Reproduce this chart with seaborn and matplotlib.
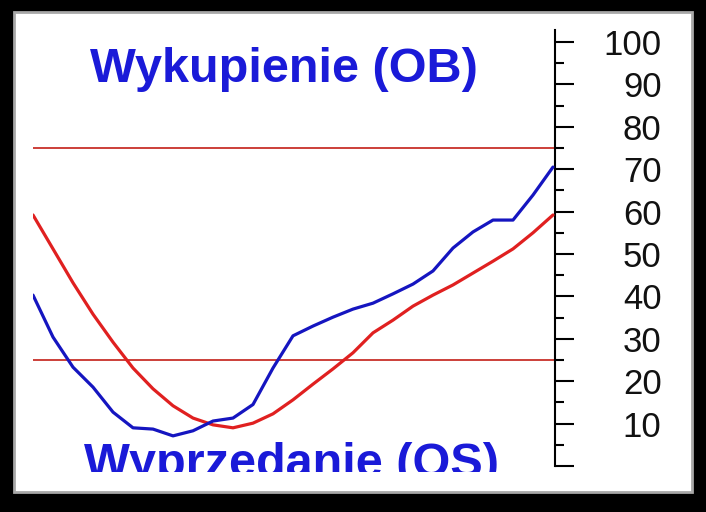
import matplotlib
matplotlib.use("Agg")
import matplotlib.pyplot as plt
import matplotlib.patches as mpatches
import numpy as np
import seaborn as sns

# Wartosci (oscylator, 27 kolejnych sesji)
sesje = list(range(27))
linia_niebieska = [40.3, 30.4, 23.3, 18.6, 12.7, 9.0, 8.7, 7.1, 8.3, 10.6, 11.3, 14.5, 23.1, 30.7,
                   33.0, 35.1, 37.0, 38.4, 40.6, 42.9, 46.0, 51.4, 55.2, 58.0, 58.0, 63.9, 70.5]
linia_czerwona = [59.2, 51.2, 43.2, 35.8, 29.2, 23.1, 18.2, 14.2, 11.3, 9.7, 9.0, 10.1, 12.3, 15.6,
                  19.3, 22.9, 26.7, 31.4, 34.4, 37.7, 40.3, 42.7, 45.5, 48.3, 51.2, 55.0, 59.2]
poziomy = [75, 25]
etykiety_osi = ["", "10", "20", "30", "40", "50", "60", "70", "80", "90", "100"]

sns.set_theme(style="white")
plt.rcParams['font.family'] = ['Liberation Sans', 'DejaVu Sans']

W, H = 706, 512
fig = plt.figure(figsize=(W / 100, H / 100), dpi=100, facecolor="black")

# biale tlo panelu z szara ramka
panel = mpatches.Rectangle((14 / W, 1 - 492 / H), (692 - 14) / W, (492 - 12) / H,
                           transform=fig.transFigure, facecolor="white",
                           edgecolor="#a8a8a8", linewidth=2, zorder=0)
fig.add_artist(panel)

ax = fig.add_axes([33 / W, 1 - 472 / H, (555 - 33) / W, (472 - 14) / H])
ax.set_facecolor("none")

for p in poziomy:
    ax.axhline(p, color="#c8302a", linewidth=1.3, zorder=1)

sns.lineplot(x=sesje, y=linia_czerwona, color="#e02020", linewidth=2.3, ax=ax, zorder=3)
sns.lineplot(x=sesje, y=linia_niebieska, color="#1515c0", linewidth=2.3, ax=ax, zorder=3)

ax.set_xlim(0, 26.1)
ax.set_ylim(-1.42, 106.6)

ax.text(12.55, 90.6, "Wykupienie (OB)", color="#1a1ad8", fontsize=35,
        fontweight="bold", ha="center", va="baseline")
ax.text(12.9, -2.6, "Wyprzedanie (OS)", color="#1a1ad8", fontsize=35,
        fontweight="bold", ha="center", va="baseline", clip_on=True)

# os po prawej stronie
for s in ["left", "top", "bottom"]:
    ax.spines[s].set_visible(False)
ax.spines["right"].set_visible(True)
ax.spines["right"].set_color("black")
ax.spines["right"].set_linewidth(1.5)
ax.spines["right"].set_bounds(0, 102.8)
ax.set_xticks([])
ax.yaxis.tick_right()
ax.set_yticks(np.arange(0, 101, 10))
ax.set_yticks(np.arange(5, 100, 10), minor=True)
ax.set_yticklabels(etykiety_osi)
ax.tick_params(axis="y", which="major", direction="out", length=13.7, width=1.5,
               color="black", labelsize=25, labelcolor="#111111", pad=63)
ax.tick_params(axis="y", which="minor", direction="out", length=6.5, width=1.5,
               color="black", right=True)
for lab in ax.get_yticklabels():
    lab.set_horizontalalignment("right")
ax.set_xlabel("")
ax.set_ylabel("")

fig.savefig("out.png", dpi=100, facecolor="black")
